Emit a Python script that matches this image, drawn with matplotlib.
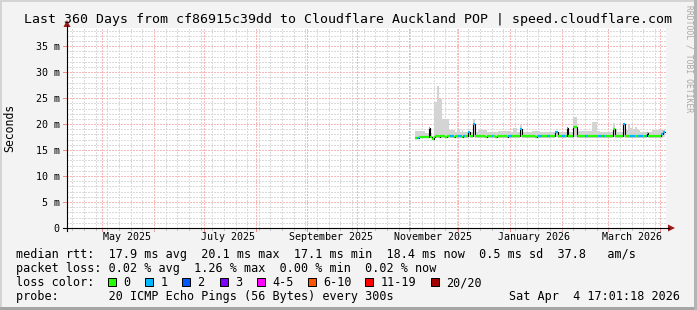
import matplotlib
matplotlib.use("Agg")
import matplotlib.pyplot as plt
import matplotlib.dates as mdates
from matplotlib.collections import LineCollection
from matplotlib.patches import Rectangle, Polygon
from matplotlib.lines import Line2D
from datetime import datetime, timedelta

# ---------------- data ----------------
title = "Last 360 Days from cf86915c39dd to Cloudflare Auckland POP | speed.cloudflare.com"
graph_end = datetime(2026, 4, 4, 17, 1, 18)
graph_days = 360
data_start = datetime(2025, 11, 5)

median_ms = [
    17.4, 17.4, 17.5, 17.6, 17.6, 17.6, 17.6, 17.6, 19.2, 17.6,
    17.1, 17.6, 17.7, 17.7, 17.6, 17.7, 17.7, 17.7, 17.6, 17.7,
    17.7, 17.7, 17.7, 17.6, 17.7, 17.7, 17.7, 17.7, 17.6, 17.7,
    17.7, 17.7, 18.4, 17.7, 17.7, 20.1, 17.7, 17.7, 17.7, 17.7,
    17.7, 17.7, 17.6, 17.7, 17.7, 17.7, 17.7, 17.7, 17.6, 17.7,
    17.7, 17.7, 17.7, 17.7, 17.7, 17.6, 17.7, 17.7, 17.7, 17.7,
    17.7, 17.7, 17.7, 19.0, 17.7, 17.7, 17.7, 17.7, 17.7, 17.7,
    17.7, 17.7, 17.6, 17.7, 17.7, 17.7, 17.7, 17.7, 17.7, 17.7,
    17.7, 17.7, 17.7, 17.7, 18.4, 18.4, 17.7, 17.7, 17.7, 17.7,
    17.7, 19.2, 17.7, 17.7, 17.7, 19.5, 19.5, 17.7, 17.7, 17.7,
    17.7, 17.8, 17.7, 17.7, 17.7, 17.7, 17.8, 17.7, 17.7, 17.7,
    17.7, 17.7, 17.7, 17.7, 17.7, 17.8, 17.7, 17.7, 17.7, 19.1,
    17.7, 17.7, 17.7, 17.7, 17.7, 20.1, 17.7, 17.7, 17.7, 17.7,
    17.7, 17.7, 17.7, 17.7, 17.7, 17.7, 17.7, 17.7, 17.7, 18.3,
    17.7, 17.7, 17.7, 17.7, 17.7, 17.7, 17.7, 17.7, 18.0, 18.4,
]

smoke_hi_ms = [
    18.6, 18.6, 18.6, 18.6, 18.6, 18.6, 18.3, 18.3, 19.4, 18.3,
    17.8, 24.2, 24.2, 27.3, 24.8, 24.8, 21.0, 21.0, 21.0, 21.0,
    18.9, 18.9, 18.9, 18.9, 18.5, 19.1, 19.1, 18.5, 18.9, 18.5,
    18.5, 18.5, 18.7, 18.4, 18.4, 21.0, 18.5, 18.5, 18.9, 18.9,
    18.9, 18.9, 18.9, 18.5, 18.5, 18.5, 18.5, 18.5, 18.5, 18.5,
    18.7, 18.7, 18.7, 18.7, 18.7, 18.7, 18.7, 18.4, 18.4, 19.3,
    19.3, 18.5, 18.5, 20.1, 18.6, 18.5, 18.5, 18.5, 18.5, 18.5,
    18.6, 18.6, 18.6, 18.6, 18.6, 18.4, 18.4, 18.4, 18.4, 18.4,
    18.4, 18.4, 18.4, 18.4, 18.7, 18.7, 18.4, 18.4, 18.4, 18.4,
    18.4, 19.4, 18.5, 18.5, 18.5, 21.4, 21.4, 18.7, 18.7, 18.7,
    18.7, 18.7, 18.7, 18.7, 18.7, 18.7, 20.4, 20.4, 20.4, 18.7,
    18.7, 18.5, 18.5, 18.5, 18.5, 18.5, 18.5, 18.5, 18.5, 20.3,
    19.0, 18.5, 18.5, 18.5, 18.5, 20.3, 19.0, 18.8, 19.9, 19.2,
    19.6, 19.0, 19.5, 19.1, 18.9, 18.5, 18.5, 18.5, 18.5, 18.5,
    18.5, 18.5, 18.9, 18.9, 18.9, 18.9, 18.9, 18.9, 18.9, 18.9,
]

smoke_lo_ms = [
    17.1, 17.1, 17.2, 17.3, 17.3, 17.3, 17.3, 17.3, 17.5, 17.3,
    16.9, 17.3, 17.3, 17.3, 17.3, 17.3, 17.3, 17.3, 17.3, 17.3,
    17.3, 17.3, 17.3, 17.3, 17.3, 17.3, 17.3, 17.3, 17.3, 17.3,
    17.3, 17.3, 17.6, 17.3, 17.3, 17.6, 17.3, 17.3, 17.3, 17.3,
    17.3, 17.3, 17.3, 17.3, 17.3, 17.3, 17.3, 17.3, 17.3, 17.3,
    17.3, 17.3, 17.3, 17.3, 17.3, 17.3, 17.3, 17.3, 17.3, 17.3,
    17.3, 17.3, 17.3, 17.5, 17.3, 17.3, 17.3, 17.3, 17.3, 17.3,
    17.3, 17.3, 17.3, 17.3, 17.3, 17.3, 17.3, 17.3, 17.3, 17.3,
    17.3, 17.3, 17.3, 17.3, 17.6, 17.6, 17.3, 17.3, 17.3, 17.3,
    17.3, 17.5, 17.3, 17.3, 17.3, 17.6, 17.6, 17.3, 17.3, 17.3,
    17.3, 17.3, 17.3, 17.3, 17.3, 17.3, 17.3, 17.3, 17.3, 17.3,
    17.3, 17.3, 17.3, 17.3, 17.3, 17.3, 17.3, 17.3, 17.3, 17.5,
    17.3, 17.3, 17.3, 17.3, 17.3, 17.6, 17.3, 17.3, 17.3, 17.3,
    17.3, 17.3, 17.3, 17.3, 17.3, 17.3, 17.3, 17.3, 17.3, 17.5,
    17.3, 17.3, 17.3, 17.3, 17.3, 17.3, 17.3, 17.3, 17.4, 17.6,
]

loss_idx = [
    0, 1, 0, 0, 0, 0, 0, 0, 0, 0,
    0, 0, 0, 0, 0, 0, 0, 0, 0, 0,
    0, 1, 1, 0, 0, 0, 1, 1, 0, 1,
    0, 0, 1, 0, 0, 1, 0, 0, 0, 0,
    0, 0, 0, 0, 0, 0, 1, 0, 0, 0,
    0, 0, 0, 0, 0, 0, 1, 1, 0, 0,
    0, 0, 0, 1, 0, 0, 0, 0, 0, 0,
    0, 0, 0, 0, 1, 1, 0, 0, 0, 1,
    1, 0, 0, 0, 1, 1, 0, 0, 1, 1,
    0, 1, 0, 0, 0, 0, 0, 1, 0, 0,
    0, 0, 1, 1, 0, 0, 0, 0, 0, 0,
    1, 1, 0, 1, 0, 0, 0, 0, 0, 0,
    0, 0, 0, 0, 0, 1, 0, 0, 0, 1,
    1, 1, 0, 0, 1, 1, 1, 0, 1, 0,
    0, 0, 0, 0, 0, 0, 0, 0, 1, 1,
]

y_max_ms = 38.5
y_major = [0, 5, 10, 15, 20, 25, 30, 35]
y_labels = ["0", "5 m", "10 m", "15 m", "20 m", "25 m", "30 m", "35 m"]
x_label_dates = [datetime(2025, 5, 15, 12), datetime(2025, 7, 15, 12), datetime(2025, 9, 15, 12),
                 datetime(2025, 11, 15, 12), datetime(2026, 1, 15, 12), datetime(2026, 3, 15, 12)]
x_labels = ["May 2025", "July 2025", "September 2025", "November 2025", "January 2026", "March 2026"]

loss_names = ["0", "1", "2", "3", "4-5", "6-10", "11-19", "20/20"]
loss_colors = ["#26ff00", "#00b8ff", "#0059ff", "#7e00ff", "#ff00ff", "#ff5500", "#ff0000", "#a10000"]

legend_rtt = "median rtt:  17.9 ms avg  20.1 ms max  17.1 ms min  18.4 ms now  0.5 ms sd  37.8   am/s"
legend_loss = "packet loss: 0.02 % avg  1.26 % max  0.00 % min  0.02 % now"
legend_color_label = "loss color:"
legend_probe = "probe:       20 ICMP Echo Pings (56 Bytes) every 300s"
legend_date = "Sat Apr  4 17:01:18 2026"
y_title = "Seconds"
watermark = "RRDTOOL / TOBI OETIKER"

# ---------------- figure ----------------
W, H = 697, 310
plt.rcParams["font.family"] = ["DejaVu Sans Mono"]
fig = plt.figure(figsize=(W / 100, H / 100), dpi=100)
fig.patch.set_facecolor("#f3f3f3")


def fx(x):
    return x / W


def fy(y):
    return 1 - y / H


L, R, B, T = 67, 666, 228, 28
ax = fig.add_axes([fx(L), fy(B), (R - L) / W, (B - T) / H])
ax.set_facecolor("white")
for s in ax.spines.values():
    s.set_visible(False)

graph_start = graph_end - timedelta(days=graph_days)
ax.set_xlim(graph_start, graph_end)
ax.set_ylim(0, y_max_ms)

# grid (1px on / 1px off dotted, crisp)
dot = (0, (1.39, 1.39))
minor_c = "#dadada"
major_c = "#f7b8b8"
for v in range(0, int(y_max_ms) + 1):
    if v % 5:
        ax.axhline(v, color=minor_c, lw=0.72, ls=dot, zorder=0.5, antialiased=False)
for v in y_major:
    ax.axhline(v, color=major_c, lw=0.72, ls=dot, zorder=0.6, antialiased=False)

week = datetime(2025, 4, 13)
week_lines = []
while week < graph_end:
    week_lines.append(week)
    week += timedelta(days=7)
month_lines = []
yy, mm = 2025, 5
while datetime(yy, mm, 1) < graph_end:
    month_lines.append(datetime(yy, mm, 1))
    mm += 1
    if mm > 12:
        mm, yy = 1, yy + 1
for d in week_lines:
    ax.axvline(d, color=minor_c, lw=0.72, ls=dot, zorder=0.5, antialiased=False)
for d in month_lines:
    ax.axvline(d, color=major_c, lw=0.72, ls=dot, zorder=0.6, antialiased=False)

# data
n = len(median_ms)
edges = [data_start + timedelta(days=i) for i in range(n + 1)]
ax.fill_between(edges, smoke_lo_ms + [smoke_lo_ms[-1]], smoke_hi_ms + [smoke_hi_ms[-1]],
                step="post", color="#d4d4d4", lw=0, zorder=1)
ax.step(edges, median_ms + [median_ms[-1]], where="post", color="black", lw=0.8, zorder=2)
xe = mdates.date2num(edges)
segs = [[(xe[i], median_ms[i]), (xe[i + 1], median_ms[i])] for i in range(n)]
cols = [loss_colors[k] for k in loss_idx]
ax.add_collection(LineCollection(segs, colors=cols, linewidths=1.6, capstyle="butt", zorder=3))

# ticks / labels
ax.set_yticks(y_major, y_labels)
ax.set_xticks(x_label_dates, x_labels)
ax.tick_params(axis="y", length=0, pad=5.2, labelsize=7.2)
ax.tick_params(axis="x", length=0, pad=3.2, labelsize=7.2)

# small ticks outside the canvas
for v in y_major:
    ax.plot([-0.006, 0], [v, v], transform=ax.get_yaxis_transform(), color="#f08c8c", lw=0.72,
            clip_on=False, zorder=4)
for d in month_lines:
    ax.plot([d, d], [-0.015, 0], transform=ax.get_xaxis_transform(), color="#f08c8c", lw=0.72,
            clip_on=False, zorder=4)
for d in week_lines:
    ax.plot([d, d], [-0.008, 0], transform=ax.get_xaxis_transform(), color="#c4c4c4", lw=0.72,
            clip_on=False, zorder=4)

# axes with arrows
fig.add_artist(Line2D([fx(67), fx(67)], [fy(231), fy(25)], color="black", lw=0.8))
fig.add_artist(Line2D([fx(63), fx(669)], [fy(228), fy(228)], color="black", lw=0.8))
arrow_c = "#9b1c1c"
fig.add_artist(Polygon([(fx(63.5), fy(27)), (fx(70.5), fy(27)), (fx(67), fy(20))],
                       closed=True, color=arrow_c, lw=0))
fig.add_artist(Polygon([(fx(668), fy(224.5)), (fx(668), fy(231.5)), (fx(675), fy(228))],
                       closed=True, color=arrow_c, lw=0))

# title and side labels
fig.text(0.5, fy(19), title, ha="center", va="center", fontsize=9.55, color="black")
fig.text(fx(10), fy(128), y_title, rotation=90, ha="center", va="center", fontsize=8.3)
fig.text(fx(689), fy(5), watermark, rotation=270, ha="center", va="top", fontsize=5.8,
         color="#a8a8a8")

# legend
lx = 16
lfs = 8.5
fig.text(fx(lx), fy(258), legend_rtt, ha="left", va="baseline", fontsize=lfs)
fig.text(fx(lx), fy(272), legend_loss, ha="left", va="baseline", fontsize=lfs)
fig.text(fx(lx), fy(286), legend_color_label, ha="left", va="baseline", fontsize=lfs)
box_x = [108, 145, 182, 219.5, 257, 307.5, 365, 430.5]
for bx, name, c in zip(box_x, loss_names, loss_colors):
    fig.add_artist(Rectangle((fx(bx), fy(286)), 8 / W, 8 / H, facecolor=c, edgecolor="black",
                             lw=0.72))
    fig.text(fx(bx + 15.5), fy(286), name, ha="left", va="baseline", fontsize=lfs)
fig.text(fx(lx), fy(300), legend_probe, ha="left", va="baseline", fontsize=lfs)
fig.text(fx(680), fy(300), legend_date, ha="right", va="baseline", fontsize=lfs)

# frame shading
fig.add_artist(Rectangle((0, fy(2)), 1, 2 / H, facecolor="#d4d4d4", lw=0))
fig.add_artist(Rectangle((0, 0), 2 / W, 1, facecolor="#d4d4d4", lw=0))
fig.add_artist(Rectangle((0, 0), 1, 3 / H, facecolor="#a5a5a5", lw=0))
fig.add_artist(Rectangle((fx(694), 0), 3 / W, 1, facecolor="#b4b4b4", lw=0))

fig.savefig("out.png", dpi=100, facecolor=fig.get_facecolor())
